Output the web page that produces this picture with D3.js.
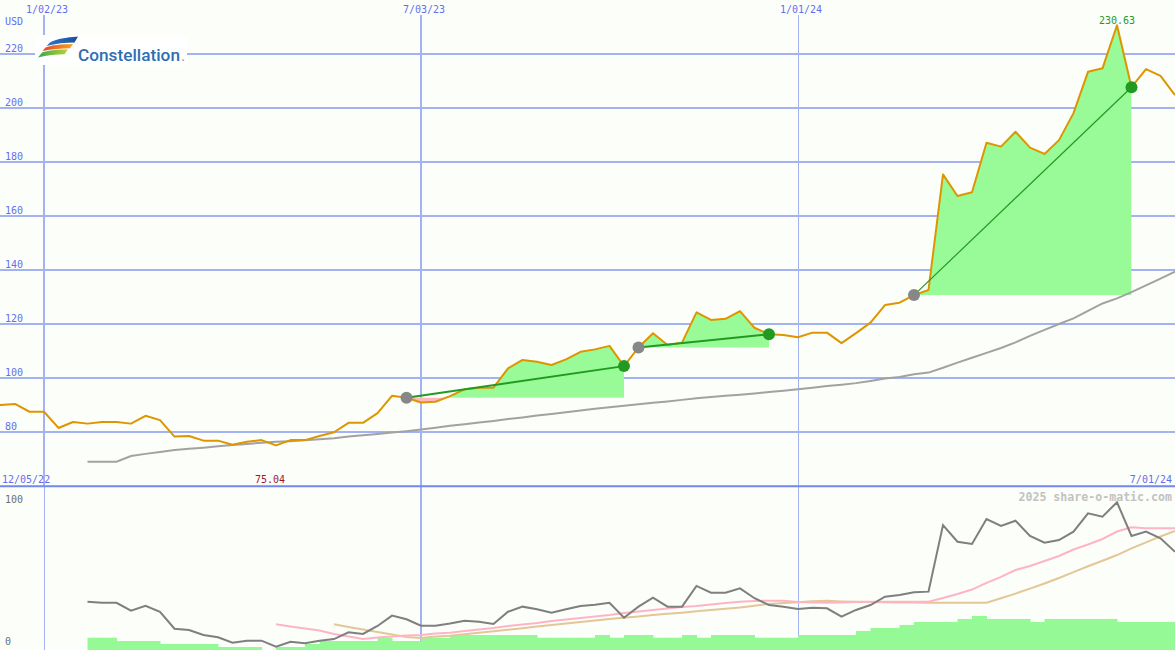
<!DOCTYPE html>
<html><head><meta charset="utf-8">
<script src="https://cdn.jsdelivr.net/npm/d3@7"></script>
<style>html,body{margin:0;padding:0;background:#fcfefa;} svg{display:block;}</style>
</head><body><svg id="c" width="1175" height="650"></svg>
<script>
// ---------------- DATA ----------------
const weeks = [
"2022-12-05","2022-12-12","2022-12-19","2022-12-26","2023-01-02","2023-01-09","2023-01-16","2023-01-23","2023-01-30","2023-02-06",
"2023-02-13","2023-02-20","2023-02-27","2023-03-06","2023-03-13","2023-03-20","2023-03-27","2023-04-03","2023-04-10","2023-04-17",
"2023-04-24","2023-05-01","2023-05-08","2023-05-15","2023-05-22","2023-05-29","2023-06-05","2023-06-12","2023-06-19","2023-06-26",
"2023-07-03","2023-07-10","2023-07-17","2023-07-24","2023-07-31","2023-08-07","2023-08-14","2023-08-21","2023-08-28","2023-09-04",
"2023-09-11","2023-09-18","2023-09-25","2023-10-02","2023-10-09","2023-10-16","2023-10-23","2023-10-30","2023-11-06","2023-11-13",
"2023-11-20","2023-11-27","2023-12-04","2023-12-11","2023-12-18","2023-12-25","2024-01-01","2024-01-08","2024-01-15","2024-01-22",
"2024-01-29","2024-02-05","2024-02-12","2024-02-19","2024-02-26","2024-03-04","2024-03-11","2024-03-18","2024-03-25","2024-04-01",
"2024-04-08","2024-04-15","2024-04-22","2024-04-29","2024-05-06","2024-05-13","2024-05-20","2024-05-27","2024-06-03","2024-06-10",
"2024-06-17","2024-06-24","2024-07-01"];

const price = [
89.5,90.0,90.4,87.5,87.5,81.5,83.7,83.1,83.7,83.7,
83.1,86.0,84.4,78.3,78.5,76.8,76.8,75.3,76.4,77.0,
75.04,77.0,77.0,78.5,79.9,83.4,83.4,87.0,93.4,92.7,
90.9,91.2,93.3,95.8,96.4,96.4,103.6,106.7,106.0,104.8,
106.9,109.7,110.6,111.9,104.4,111.3,116.6,112.2,113.1,124.3,
121.5,121.9,124.8,118.6,116.2,115.9,115.1,116.8,116.8,112.9,
116.6,120.5,127.0,127.9,130.7,132.6,175.4,167.4,168.8,187.1,
185.7,191.2,185.3,183.0,188.1,198.1,213.4,214.7,230.63,207.7,
214.4,211.9,204.8];

const priceMA = [
null,null,null,null,null,null,null,
69.0,69.0,69.0,71.1,71.9,72.6,73.3,73.8,74.2,74.7,
75.2,75.6,76.0,76.4,76.6,76.9,77.3,77.7,78.3,78.8,
79.3,79.8,80.3,80.9,81.6,82.3,82.9,83.5,84.1,84.8,
85.4,86.1,86.7,87.3,88.0,88.6,89.2,89.7,90.3,90.8,
91.3,91.9,92.5,93.0,93.4,93.8,94.3,94.8,95.3,95.8,
96.4,97.0,97.5,98.1,98.9,99.8,100.4,101.4,102.0,103.8,
105.7,107.5,109.3,111.1,113.2,115.6,117.8,120.0,122.1,124.9,
127.6,129.5,131.8,134.3,136.8,139.4];

const relStrength = [
null,null,null,null,null,null,null,
32.2,31.5,31.5,26.2,29.5,25.5,14.2,13.3,10.0,8.5,
4.9,6.2,6.2,2.2,5.5,4.5,6.2,7.3,11.8,10.7,
16.0,22.9,20.5,16.2,16.2,17.7,19.5,18.9,17.3,25.5,
28.9,27.1,24.9,27.1,29.3,30.2,31.5,21.5,28.9,34.9,
28.9,28.9,42.7,38.2,38.2,41.1,34.5,30.0,28.9,27.3,
28.2,27.8,22.2,26.7,30.0,35.5,36.7,38.5,38.9,83.3,
72.2,70.7,87.3,82.7,86.2,76.0,71.5,73.3,78.9,91.1,
88.9,98.5,76.0,78.9,74.5,65.5];

const rsFast = [
null,null,null,null,null,null,null,null,null,null,
null,null,null,null,null,null,null,null,null,null,
17.1,15.7,14.3,13.0,10.7,9.0,7.3,8.3,9.0,9.7,
10.0,11.0,11.5,12.7,13.7,14.7,16.0,17.0,18.0,19.3,
20.3,21.3,22.3,23.3,24.7,25.7,26.7,27.7,28.7,29.3,
30.3,31.3,32.2,32.7,32.9,32.9,32.0,31.7,31.5,31.7,
32.0,32.2,32.2,32.2,32.2,32.2,34.7,37.3,40.3,44.7,
48.7,53.3,56.0,59.3,62.7,67.0,70.3,74.0,79.0,81.8,
81.1,81.1,81.1];

const rsSlow = [
null,null,null,null,null,null,null,null,null,null,
null,null,null,null,null,null,null,null,null,null,
null,null,null,null,
17.1,15.3,13.7,12.0,10.3,8.7,8.0,9.0,9.5,10.5,
11.5,12.5,13.5,14.5,15.6,16.6,17.6,18.6,19.6,20.6,
21.5,22.4,23.3,24.1,24.9,25.8,26.6,27.5,28.3,29.5,
30.7,31.3,31.9,32.5,32.8,32.4,32.1,32.0,31.9,31.7,
31.6,31.5,31.5,31.5,31.5,31.5,34.5,37.6,40.9,44.3,
48.0,51.9,55.8,59.5,63.3,67.7,71.7,75.7,79.3];

const volume = [
null,null,null,null,null,null,null,
8.2,8.2,6,6,6,4,4,4,4,2,
2,2,0,2,2,4,6,6,6,6,
8.2,6,6,8.2,8.2,10,10,10,10,10,
10,8.2,8.2,8.2,8.2,10,8.2,10,10,8.2,
8.2,10,8.2,10,10,10,8.2,8.2,8.2,10,
10,10,10,12.7,14.7,14.7,16.7,18.7,18.7,18.7,
20.7,22.7,20.7,20.7,20.7,18.7,20.7,20.7,20.7,20.7,
20.7,18.7,18.7,18.7,18.7,18.7];

const priceTicks = [80,100,120,140,160,180,200,220];
const lowerTicks = [0,100];
const dateTicks = ["2023-01-02","2023-07-03","2024-01-01"];
const signals = [["2023-06-26","2023-10-09"],["2023-10-16","2023-12-18"],["2024-02-26","2024-06-10"]];
const currency = "USD";
const company = "Constellation";
const credit = "2025 share-o-matic.com";

// ---------------- DRAW ----------------
const W = 1175, H = 650;
const GRID = "#a3b2f2", SEP = "#7586ec", LBL = "#5f70f0";
const MONO = "'DejaVu Sans Mono', 'Liberation Mono', monospace";
const parse = d3.utcParse("%Y-%m-%d");
const fmt = d3.utcFormat("%-m/%d/%y");
const D = weeks.map(parse);
const x = d3.scaleUtc().domain([D[0], D[D.length-1]]).range([-14, 1175]);
const y = d3.scaleLinear().domain([80,220]).range([432,54]);
const y2 = d3.scaleLinear().domain([0,100]).range([650,500]);

const svg = d3.select("#c");
const defs = svg.append("defs");
svg.append("rect").attr("width",W).attr("height",H).attr("fill","#fcfefa");

defs.append("clipPath").attr("id","topClip").append("rect").attr("x",0).attr("y",0).attr("width",W).attr("height",485);
defs.append("clipPath").attr("id","botClip").append("rect").attr("x",0).attr("y",488).attr("width",W).attr("height",H-488);

// grid
const gGrid = svg.append("g");
gGrid.selectAll("line.h").data(priceTicks).join("line")
  .attr("x1",0).attr("x2",W).attr("y1",d=>y(d)).attr("y2",d=>y(d))
  .attr("stroke",GRID).attr("stroke-width",2);
const vwTop = [2,2,1], vwBot = [1,2,1];
dateTicks.forEach((t,i)=>{
  const xx = Math.round(x(parse(t))) + (vwTop[i]===1?0.5:0);
  gGrid.append("line").attr("x1",xx).attr("x2",xx).attr("y1",15).attr("y2",486)
    .attr("stroke",GRID).attr("stroke-width",vwTop[i]);
  const xb = Math.round(x(parse(t))) + (vwBot[i]===1?0.5:0);
  gGrid.append("line").attr("x1",xb).attr("x2",xb).attr("y1",487).attr("y2",H)
    .attr("stroke",GRID).attr("stroke-width",vwBot[i]);
});

// top panel
const gTop = svg.append("g").attr("clip-path","url(#topClip)");
const pts = D.map((d,i)=>({d, v:price[i]}));

signals.forEach(([s,e],k)=>{
  const i0 = weeks.indexOf(s), i1 = weeks.indexOf(e);
  const seg = pts.slice(i0, i1+1);
  const base = price[i0];
  const x0 = x(D[i0]), x1 = x(D[i1]);
  defs.append("clipPath").attr("id","up"+k).append("rect")
    .attr("x",x0).attr("width",x1-x0).attr("y",0).attr("height",y(base));
  defs.append("clipPath").attr("id","dn"+k).append("rect")
    .attr("x",x0).attr("width",x1-x0).attr("y",y(base)).attr("height",485-y(base));
  const area = d3.area().x(d=>x(d.d)).y0(y(base)).y1(d=>y(d.v));
  gTop.append("path").datum(seg).attr("d",area).attr("fill","#98fb98").attr("clip-path",`url(#up${k})`);
  gTop.append("path").datum(seg).attr("d",area).attr("fill","#ffb6c1").attr("clip-path",`url(#dn${k})`);
});

const maLine = d3.line().defined(d=>d.v!=null).x(d=>x(d.d)).y(d=>y(d.v));
gTop.append("path").datum(D.map((d,i)=>({d,v:priceMA[i]})))
  .attr("d",maLine).attr("fill","none").attr("stroke","#a2a2a2").attr("stroke-width",2);

gTop.append("path").datum(pts).attr("d",maLine).attr("fill","none")
  .attr("stroke","#de9500").attr("stroke-width",2).attr("stroke-linejoin","round");

const sigW = [2,2,1.2];
signals.forEach(([s,e],k)=>{
  const i0 = weeks.indexOf(s), i1 = weeks.indexOf(e);
  gTop.append("line").attr("x1",x(D[i0])).attr("y1",y(price[i0])).attr("x2",x(D[i1])).attr("y2",y(price[i1]))
    .attr("stroke","#229a22").attr("stroke-width",sigW[k]);
});
signals.forEach(([s,e])=>{
  const i0 = weeks.indexOf(s), i1 = weeks.indexOf(e);
  gTop.append("circle").attr("cx",x(D[i0])).attr("cy",y(price[i0])).attr("r",6).attr("fill","#878787");
  gTop.append("circle").attr("cx",x(D[i1])).attr("cy",y(price[i1])).attr("r",6).attr("fill","#229a22");
});

// logo
const gLogo = svg.append("g");
gLogo.append("rect").attr("x",35).attr("y",35).attr("width",152).attr("height",30).attr("fill","#ffffff");
const lg = defs.append("linearGradient").attr("id","lgBlue").attr("x1","0").attr("x2","1");
lg.append("stop").attr("offset","0").attr("stop-color","#2f78c8");
lg.append("stop").attr("offset","1").attr("stop-color","#1a4f9a");
const lo = defs.append("linearGradient").attr("id","lgOr").attr("x1","0").attr("x2","1");
lo.append("stop").attr("offset","0").attr("stop-color","#e8452a");
lo.append("stop").attr("offset","1").attr("stop-color","#f7a21b");
const lgr = defs.append("linearGradient").attr("id","lgGr").attr("x1","0").attr("x2","1");
lgr.append("stop").attr("offset","0").attr("stop-color","#3aa84a");
lgr.append("stop").attr("offset","1").attr("stop-color","#b8d432");
gLogo.append("path").attr("d","M50,42.5 C56,39 66,37.5 78,36.5 L74.5,42.5 C65,42.5 56,43.5 46.5,46 Z").attr("fill","url(#lgBlue)");
gLogo.append("path").attr("d","M45.5,47.5 C51.5,45 61,44.3 73,44 L70,48.3 C61,48.3 52,49.3 42.5,51 Z").attr("fill","url(#lgOr)");
gLogo.append("path").attr("d","M42,52.5 C48,50.3 57,49.5 68,49.2 L64.5,54.3 C56,54.3 47,55.5 38,57.5 Z").attr("fill","url(#lgGr)");
gLogo.append("text").attr("x",78).attr("y",60.5).text(company)
  .attr("font-family","Roboto, 'Open Sans', sans-serif").attr("font-weight",500).attr("font-size",16.8)
  .attr("fill","#2f6db5").attr("textLength",102).attr("lengthAdjust","spacingAndGlyphs");
gLogo.append("text").attr("x",181).attr("y",60.5).text(".")
  .attr("font-family","Roboto, sans-serif").attr("font-size",16).attr("fill","#8aa0bd");

// separator
svg.append("line").attr("x1",0).attr("x2",W).attr("y1",486.3).attr("y2",486.3).attr("stroke",SEP).attr("stroke-width",2);

// lower panel
const gBot = svg.append("g").attr("clip-path","url(#botClip)");
gBot.selectAll("rect.vol").data(D.map((d,i)=>({d,v:volume[i],i})).filter(o=>o.v!=null)).join("rect")
  .attr("x",o=>x(o.d))
  .attr("width",o=>o.i<D.length-1 ? x(D[o.i+1])-x(o.d)+0.5 : 15)
  .attr("y",o=>y2(o.v)).attr("height",o=>H-y2(o.v))
  .attr("fill","#95fa95");
const l2 = d3.line().defined(d=>d.v!=null).x(d=>x(d.d)).y(d=>y2(d.v));
[[rsSlow,"#e3c796"],[rsFast,"#ffb4c6"],[relStrength,"#7f7f7f"]].forEach(([arr,col])=>{
  gBot.append("path").datum(D.map((d,i)=>({d,v:arr[i]}))).attr("d",l2)
    .attr("fill","none").attr("stroke",col).attr("stroke-width",2);
});

// ---------------- TEXT ----------------
const T = svg.append("g").attr("font-family",MONO).attr("font-size",10);
dateTicks.forEach(t=>{
  T.append("text").attr("x",x(parse(t))+3).attr("y",12.5).attr("text-anchor","middle").attr("fill",LBL).text(fmt(parse(t)));
});
T.append("text").attr("x",5).attr("y",25).attr("fill",LBL).text(currency);
priceTicks.forEach(v=>{
  T.append("text").attr("x",5).attr("y",y(v)-2).attr("fill",LBL).text(v);
});
T.append("text").attr("x",2).attr("y",482.5).attr("fill",LBL).text(fmt(D[0]));
T.append("text").attr("x",1172).attr("y",482.5).attr("text-anchor","end").attr("fill",LBL).text(fmt(D[D.length-1]));

const iMax = d3.maxIndex(price), iMin = d3.minIndex(price);
T.append("text").attr("x",x(D[iMax])).attr("y",y(price[iMax])-1).attr("text-anchor","middle")
  .attr("fill","#1e9a1e").text(d3.format(".2f")(price[iMax]));
T.append("text").attr("x",x(D[iMin])-6).attr("y",482.5).attr("text-anchor","middle")
  .attr("fill","#a01a1a").text(d3.format(".2f")(price[iMin]));

T.append("text").attr("x",1172).attr("y",500.5).attr("text-anchor","end").attr("fill","#c2c2c2")
  .attr("font-size",11.6).attr("font-weight","bold").text(credit);
T.append("text").attr("x",5).attr("y",y2(100)+3).attr("fill","#707070").text(lowerTicks[1]);
T.append("text").attr("x",5).attr("y",y2(0)-5).attr("fill","#707070").text(lowerTicks[0]);
</script>
</body></html>
